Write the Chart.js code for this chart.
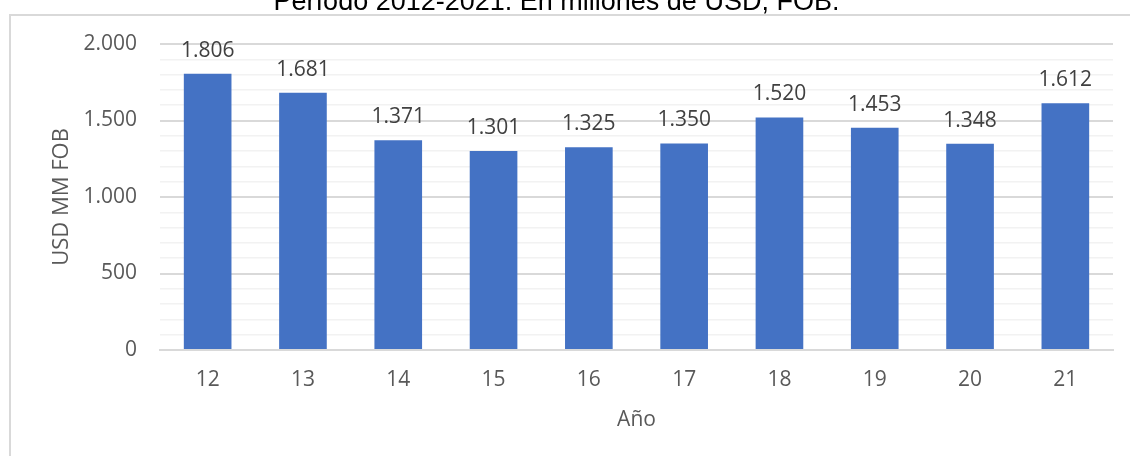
<!DOCTYPE html>
<html>
<head>
<meta charset="utf-8">
<script src="https://cdn.jsdelivr.net/npm/chart.js@4/dist/chart.umd.min.js"></script>
<style>
    body { margin: 0; background: #fff; overflow: hidden; }
    .frame {
        position: absolute; left: 9px; top: 14px;
        width: 1200px; height: 500px;
        border: 2px solid #d9d9d9; box-sizing: border-box;
    }
    .wrap { position: absolute; left: 0; top: -20px; width: 1130px; height: 476px; }
</style>
</head>
<body>
<div class="frame"></div>
<div class="wrap"><canvas id="chart" width="1130" height="476"></canvas></div>
<script>
// Datos del gráfico
const years = ["12", "13", "14", "15", "16", "17", "18", "19", "20", "21"];
const values = [1806, 1681, 1371, 1301, 1325, 1350, 1520, 1453, 1348, 1612];
const yTicks = [0, 500, 1000, 1500, 2000];

const fmt = (v) => v.toLocaleString("de-DE");
const baseFont = "'Open Sans', Lato, sans-serif";

// Etiquetas de valor sobre cada barra
const valueLabels = {
    id: "valueLabels",
    afterDatasetsDraw(chart) {
        const ctx = chart.ctx;
        const meta = chart.getDatasetMeta(0);
        ctx.save();
        ctx.font = "21px " + baseFont;
        ctx.fillStyle = "#404040";
        ctx.textAlign = "center";
        ctx.textBaseline = "alphabetic";
        meta.data.forEach((bar, i) => {
            ctx.fillText(fmt(values[i]), bar.x, bar.y - 17);
        });
        ctx.restore();
    }
};

new Chart(document.getElementById("chart"), {
    type: "bar",
    data: {
        labels: years,
        datasets: [{
            data: values,
            backgroundColor: "#4472c4",
            barPercentage: 0.5,
            categoryPercentage: 1
        }]
    },
    options: {
        responsive: false,
        animation: false,
        layout: { padding: { left: 0, right: 17, top: 0, bottom: 0 } },
        plugins: {
            legend: { display: false },
            tooltip: { enabled: false },
            title: {
                display: true,
                text: "Período 2012-2021. En millones de USD, FOB.",
                color: "#000",
                font: { family: "'Liberation Sans', Arial, sans-serif", size: 27, weight: "normal" },
                padding: { top: 6.2, bottom: 25.4 }
            }
        },
        scales: {
            x: {
                grid: { display: false, drawTicks: false },
                border: { color: "#d9d9d9", width: 2 },
                ticks: { color: "#595959", font: { family: baseFont, size: 21 }, padding: 17 },
                title: {
                    display: true,
                    text: "Año",
                    color: "#595959",
                    font: { family: baseFont, size: 21 },
                    padding: { top: 10, bottom: 23 }
                },
                afterFit(scale) { scale.height = 106; }
            },
            y: {
                min: 0,
                max: 2000,
                border: { display: false },
                grid: {
                    drawTicks: false,
                    color: (c) => (c.tick && c.tick.value % 500 === 0 ? "#d9d9d9" : "#f2f2f2"),
                    lineWidth: (c) => (c.tick && c.tick.value % 500 === 0 ? 2 : 1.5)
                },
                ticks: {
                    stepSize: 100,
                    autoSkip: false,
                    padding: 23,
                    color: "#595959",
                    font: { family: baseFont, size: 21 },
                    callback: (v) => (yTicks.includes(v) ? fmt(v) : "")
                },
                title: {
                    display: true,
                    text: "USD MM FOB",
                    color: "#595959",
                    font: { family: baseFont, size: 22 },
                    padding: { top: 49, bottom: 0 }
                },
                afterFit(scale) { scale.width = 160; }
            }
        }
    },
    plugins: [valueLabels]
});
</script>
</body>
</html>
